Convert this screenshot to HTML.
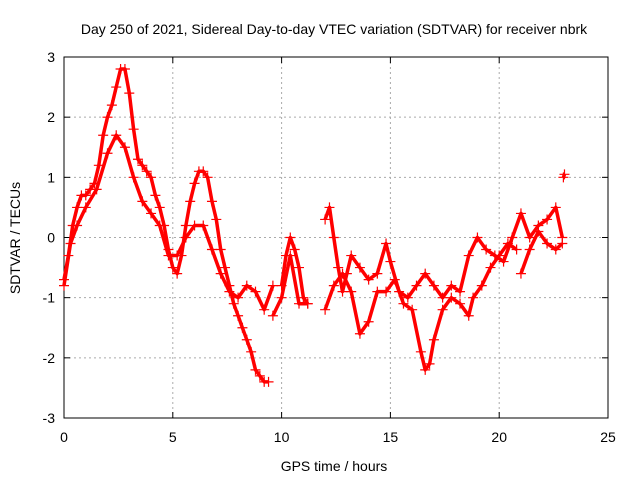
<!DOCTYPE html>
<html><head><meta charset="utf-8"><style>
body{margin:0;background:#fff;}
svg{display:block;font-family:"Liberation Sans",sans-serif;}
</style></head><body>
<svg width="640" height="480">
<g id="grid"></g>
<rect x="64" y="57" width="544" height="361" fill="none" stroke="#000"/>
<g id="ticks"></g>
<g id="marks"></g>
<text x="334" y="34" font-size="14" text-anchor="middle">Day 250 of 2021, Sidereal Day-to-day VTEC variation (SDTVAR) for receiver nbrk</text>
<text x="334" y="471" font-size="14" text-anchor="middle">GPS time / hours</text>
<text x="20" y="238" font-size="14" text-anchor="middle" transform="rotate(-90 20 238)">SDTVAR / TECUs</text>
</svg>
<script>
const xTicks=[0,5,10,15,20,25];
const yTicks=[-3,-2,-1,0,1,2,3];
const trackAt=[0,0.2,0.4,0.6,0.8,1.0,1.2,1.4,1.6,1.8,2.0,2.2,2.4,2.6,2.8,3.0,3.2,3.4,3.6,3.8,4.0,4.2,4.4,4.6,4.8,5.0,5.2,5.4,5.6,5.8,6.0,6.2,6.4,6.6,6.8,7.0,7.2,7.4,7.6,7.8,8.0,8.2,8.4,8.6,8.8,9.0,9.2,9.4];
const trackAv=[-0.7,-0.3,0.2,0.5,0.7,0.7,0.8,0.9,1.2,1.7,2.0,2.2,2.5,2.8,2.8,2.4,1.8,1.3,1.2,1.1,1.0,0.7,0.5,0.2,-0.2,-0.5,-0.6,-0.3,0.2,0.6,0.9,1.1,1.1,1.0,0.6,0.3,-0.2,-0.5,-0.8,-1.1,-1.3,-1.5,-1.7,-1.9,-2.2,-2.3,-2.4,-2.4];
const trackBt=[0,0.3,0.6,1.0,1.5,2.0,2.4,2.8,3.2,3.6,4.0,4.4,4.8,5.2,5.6,6.0,6.4,6.8,7.2,7.6,8.0,8.4,8.8,9.2,9.6];
const trackBv=[-0.8,-0.1,0.2,0.5,0.8,1.4,1.7,1.5,1.0,0.6,0.4,0.2,-0.3,-0.3,0.0,0.2,0.2,-0.2,-0.6,-0.9,-1.0,-0.8,-0.9,-1.2,-0.8];
const trackCt=[10.0,10.2,10.4,10.6,10.8,11.0,11.2,null,12.0,12.2,12.4,12.6,12.8,13.0,13.2,13.6,14.0,14.4,14.8,15.0,15.4,15.8,16.2,16.6,17.0,17.4,17.8,18.2,18.6,19.0,19.4,19.8,20.2,20.6,21.0,21.4,21.8,22.2,22.6,22.9];
const trackCv=[-0.8,-0.3,0.0,-0.2,-0.5,-1.0,-1.1,null,0.3,0.5,0.0,-0.5,-0.9,-0.6,-0.3,-0.5,-0.7,-0.6,-0.1,-0.4,-0.9,-1.0,-0.8,-0.6,-0.8,-1.0,-0.8,-0.9,-0.3,0.0,-0.2,-0.3,-0.4,0.0,0.4,0.0,0.2,0.3,0.5,0.0];
const trackDt=[9.6,10.0,10.4,10.8,11.2,null,12.0,12.4,12.8,13.2,13.6,14.0,14.4,14.8,15.2,15.6,16.0,16.4,16.6,16.8,17.0,17.4,17.8,18.2,18.6,18.8,19.2,19.6,20.0,20.4,20.8,null,21.0,21.4,21.8,22.2,22.6,22.9,null,22.95,23.0];
const trackDv=[-1.3,-1.0,-0.3,-1.1,-1.1,null,-1.2,-0.8,-0.6,-0.9,-1.6,-1.4,-0.9,-0.9,-0.7,-1.1,-1.2,-1.9,-2.2,-2.1,-1.7,-1.2,-1.0,-1.1,-1.3,-1.0,-0.8,-0.5,-0.3,-0.1,-0.2,null,-0.6,-0.2,0.1,-0.1,-0.2,-0.1,null,1.0,1.05];
const tracks=[[trackAt,trackAv],[trackBt,trackBv],[trackCt,trackCv],[trackDt,trackDv]];
const NS="http://www.w3.org/2000/svg";
const X=t=>64+t*(544/25);
const Y=v=>418-(v+3)*(361/6);
const grid=document.getElementById('grid'),ticks=document.getElementById('ticks'),marks=document.getElementById('marks');
function mk(tag,attrs,parent){const e=document.createElementNS(NS,tag);for(const k in attrs)e.setAttribute(k,attrs[k]);parent.appendChild(e);return e;}
xTicks.forEach(t=>{
  if(t>0&&t<25){const g=mk('line',{x1:X(t),x2:X(t),y1:57,y2:418,stroke:'#aaa','stroke-dasharray':'2,3'},grid);
  
  }
  mk('line',{x1:X(t),x2:X(t),y1:418,y2:412,stroke:'#000'},ticks);
  mk('line',{x1:X(t),x2:X(t),y1:57,y2:63,stroke:'#000'},ticks);
  const l=mk('text',{x:X(t),y:442,'font-size':14,'text-anchor':'middle'},ticks);l.textContent=t;
  
  
});
yTicks.forEach(v=>{
  if(v>-3&&v<3){const g=mk('line',{x1:64,x2:608,y1:Y(v),y2:Y(v),stroke:'#aaa','stroke-dasharray':'2,3'},grid);
  
  }
  mk('line',{x1:64,x2:70,y1:Y(v),y2:Y(v),stroke:'#000'},ticks);
  mk('line',{x1:602,x2:608,y1:Y(v),y2:Y(v),stroke:'#000'},ticks);
  const l=mk('text',{x:55,y:Y(v)+5,'font-size':14,'text-anchor':'end'},ticks);l.textContent=v;
  
  
});
tracks.forEach(([ts,vs])=>{
  let d='',pen=false;
  ts.forEach((t,i)=>{
    if(t===null){pen=false;return;}
    d+=(pen?'L':'M')+X(t).toFixed(1)+' '+Y(vs[i]).toFixed(1)+' ';pen=true;
    const p=mk('path',{d:`M${X(t)-5} ${Y(vs[i])}h10M${X(t)} ${Y(vs[i])-5}v10`,stroke:'#f00','stroke-width':1.2,fill:'none'},marks);
    
    
  });
  const ln=mk('path',{d:d,stroke:'#f00','stroke-width':3.5,fill:'none','stroke-linejoin':'round'},marks);
  
  
});
</script>
</body></html>
